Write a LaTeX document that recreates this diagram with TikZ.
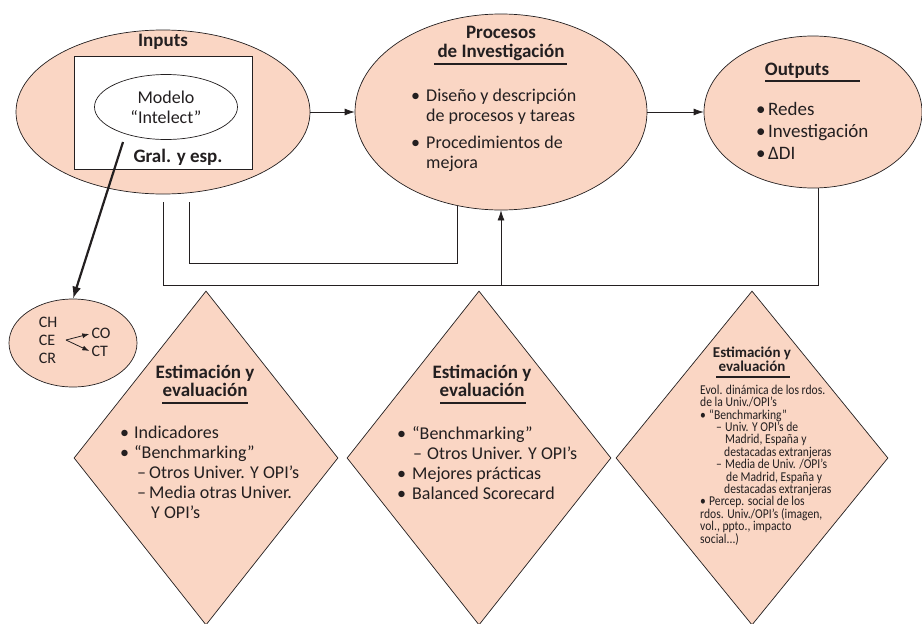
\documentclass[tikz,border=0pt]{standalone}
\usepackage{fontspec}
\setmainfont{Carlito}
\newfontfamily\narrowfont{Carlito}[FakeStretch=0.86]
\usepackage{tikz}
\usetikzlibrary{shapes.geometric, arrows.meta, positioning}
\definecolor{peach}{RGB}{250,214,196}
\definecolor{ink}{RGB}{35,31,32}
\newcommand{\vineta}[1][15pt]{\makebox[#1][l]{\textbullet}}
\newcommand{\sangria}[1][15pt]{\hspace*{#1}}
\newcommand{\guion}[1][12pt]{\makebox[#1][l]{–}}

\begin{document}
\begin{tikzpicture}[x=1pt, y=-1pt, node distance=273pt, color=ink, font=\fontsize{18}{20}\selectfont]
		\tikzstyle{bigell} = [ellipse, draw=ink, fill=peach, inner sep=0pt, line width=0.7pt]
		\tikzstyle{rombo} = [diamond, draw=ink, fill=peach, inner sep=0pt, minimum width=264, minimum height=334, line width=0.7pt]
		\tikzstyle{txt} = [inner sep=0pt, align=left]
		\tikzstyle{titulo} = [inner sep=0pt, align=center, font=\fontsize{19}{18}\selectfont\bfseries]
		\tikzstyle{line} = [draw=ink, -{Latex[length=10pt, width=7pt]}, line width=0.7pt]
		\tikzstyle{thickline} = [draw=ink, -{Latex[length=12pt, width=9pt]}, line width=2.2pt]
		\tikzstyle{smallline} = [draw=ink, -{Latex[length=7pt, width=5pt]}, line width=0.8pt]
		\tikzstyle{feedback} = [draw=ink, line width=0.7pt]
		\tikzstyle{uline} = [draw=ink, line width=1.8pt]
		\useasboundingbox (0,0) rectangle (922,624);

		% inputs
		\node (inputs) [bigell, minimum width=294, minimum height=164] at (163,112) {};
		\node (marco) [draw=ink, fill=white, minimum width=178, minimum height=113, inner sep=0pt, line width=0.7pt] at (163,112.5) {};
		\node (modelo) [ellipse, draw=ink, fill=white, minimum width=143, minimum height=65, inner sep=0pt, align=center, line width=0.7pt] at (166,107) {Modelo\\“Intelect”};
		\node (inputst) [titulo] at (163,42) {Inputs};
		\node (gral) [titulo] at (178,157) {Gral. y esp.};

		% procesos
		\node (procesos) [bigell, minimum width=292, minimum height=196] at (501,112) {};
		\node (procest) [titulo, font=\fontsize{19}{19}\selectfont\bfseries] at (501,43) {Procesos\\de Investigación};
		\draw [uline] (434,64) -- (567,64);
		\node (procesl) [txt, anchor=west] at (411,130) {\vineta Diseño y descripción\\\sangria de procesos y tareas\\[7pt]\vineta Procedimientos de\\\sangria mejora};

		% outputs
		\node (outputs) [bigell, minimum width=218, minimum height=152] at (813,112) {};
		\node (outputst) [titulo] at (797,71) {Outputs};
		\draw [uline] (765,81) -- (860,81);
		\node (outputsl) [txt, anchor=west, font=\fontsize{19}{22}\selectfont] at (756,131) {\vineta[12pt]Redes\\\vineta[12pt]Investigación\\\vineta[12pt]ΔDI};

		\path [line] (inputs) -- (procesos);
		\path [line] (procesos.east) -- (procesos.east -| outputs.west);

		% capitales
		\node (cap) [bigell, minimum width=128, minimum height=88] at (73,343) {};
		\node (chl) [txt, font=\fontsize{16}{18}\selectfont] at (48,340) {CH\\CE\\CR};
		\node (col) [txt, font=\fontsize{16}{18}\selectfont] at (101,342) {CO\\CT};
		\coordinate (vert) at (66,340);
		\path [smallline] (vert) -- ([xshift=-2pt, yshift=8pt]col.west);
		\path [smallline] (vert) -- ([xshift=-2pt, yshift=-9pt]col.west);
		\coordinate (intel) at (123,142);
		\path [thickline] (intel) -- (cap.north);

		% retroalimentacion
		\coordinate (retin) at (163,202);
		\coordinate (retbase) at (163,285);
		\draw [feedback] ([xshift=5pt]outputs.south) |- (retbase) -- (retin);
		\path [line] (retbase -| procesos.south) -- (procesos.south);
		\coordinate (midin) at (189,202);
		\coordinate (midend) at (457,206);
		\draw [feedback] (midin) -- ++(0,61) -| (midend);

		% estimacion
		\node (est1) [rombo] at (206,458) {};
		\node (est2) [rombo, right of=est1] {};
		\node (est3) [rombo, right of=est2, minimum width=272] {};

		\node (est1t) [titulo] at (205,381) {Estimación y\\evaluación};
		\draw [uline] (162,403) -- (248,403);
		\node (est1l) [txt, anchor=west] at (120,472) {\vineta[14pt]Indicadores\\\vineta[14pt]“Benchmarking”\\\sangria[17pt]\guion Otros Univer. Y OPI’s\\\sangria[17pt]\guion Media otras Univer.\\\sangria[31pt]Y OPI’s};

		\node (est2t) [titulo] at (482,381) {Estimación y\\evaluación};
		\draw [uline] (440,403) -- (526,403);
		\node (est2l) [txt, anchor=west] at (397,463) {\vineta“Benchmarking”\\\sangria[16pt]\guion[14pt]Otros Univer. Y OPI’s\\\vineta Mejores prácticas\\\vineta Balanced Scorecard};

		\node (est3t) [titulo, font=\bfseries\fontsize{15}{14}\selectfont] at (752,359) {Estimación y\\evaluación};
		\draw [uline] (716,377) -- (790,377);
		\node (est3l) [txt, anchor=west, font=\narrowfont\fontsize{13.5}{12.4}\selectfont] at (700,465) {Evol. dinámica de los rdos.\\de la Univ./OPI’s\\\vineta[9pt]“Benchmarking”\\\sangria[16pt]\guion[9pt]Univ. Y OPI’s de\\\sangria[25pt]Madrid, España y\\\sangria[24pt]destacadas extranjeras\\\sangria[16pt]\guion[9pt]Media de Univ. /OPI’s\\\sangria[26pt]de Madrid, España y\\\sangria[24pt]destacadas extranjeras\\\vineta[9pt]Percep. social de los\\rdos. Univ./OPI’s (imagen,\\vol., ppto., impacto\\social...)};

	\end{tikzpicture}
\end{document}
